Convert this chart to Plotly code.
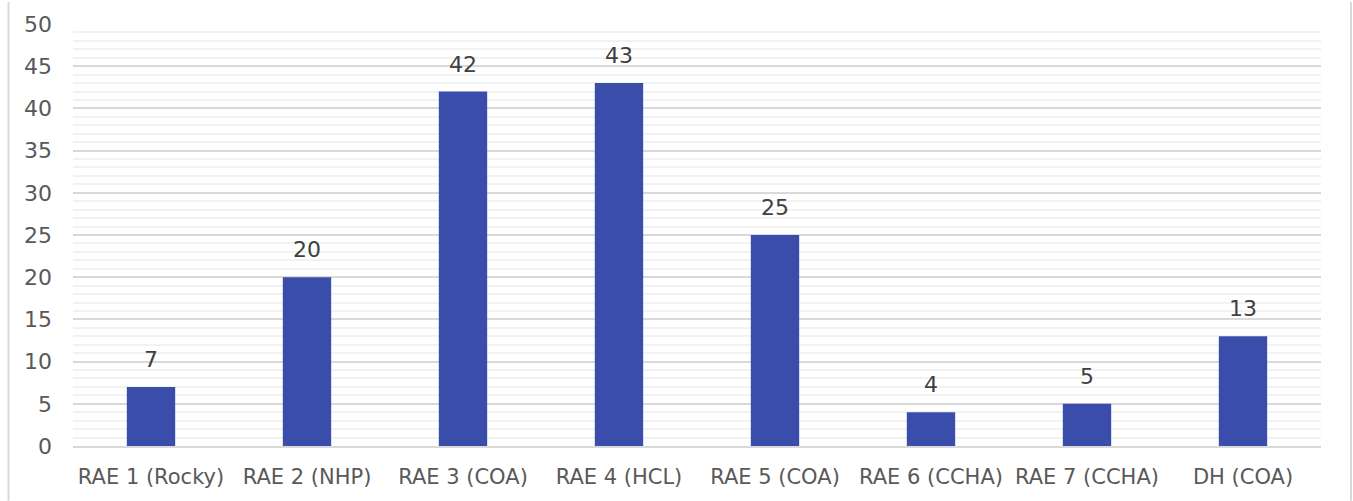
import plotly.graph_objects as go

categories = ["RAE 1 (Rocky)", "RAE 2 (NHP)", "RAE 3 (COA)", "RAE 4 (HCL)",
              "RAE 5 (COA)", "RAE 6 (CCHA)", "RAE 7 (CCHA)", "DH (COA)"]
values = [7, 20, 42, 43, 25, 4, 5, 13]
y_ticks = [0, 5, 10, 15, 20, 25, 30, 35, 40, 45, 50]

W, H = 1353, 501
ML, MR, MT, MB = 73, 32, 22, 55
FONT = "DejaVu Sans"

fig = go.Figure()
fig.add_trace(go.Bar(
    x=categories, y=values,
    marker=dict(color="#3A4DAB", line=dict(width=0)),
    hoverinfo="x+y",
))

# value labels above each bar
for c, v in zip(categories, values):
    fig.add_annotation(x=c, y=v, text=str(v), showarrow=False,
                       yanchor="bottom", yshift=13,
                       font=dict(family=FONT, size=22, color="#404040"))

# chart frame lines at left and right edges
pw = W - ML - MR
ph = H - MT - MB
for px in (8.5, 1351):
    xp = (px - ML) / pw
    fig.add_shape(type="line", xref="paper", yref="paper",
                  x0=xp, x1=xp, y0=-MB / ph, y1=1 + MT / ph,
                  line=dict(color="#D9D9D9", width=2), layer="below")

fig.update_layout(
    width=W, height=H,
    margin=dict(l=ML, r=MR, t=MT, b=MB, pad=0),
    paper_bgcolor="white", plot_bgcolor="white",
    bargap=0.69, showlegend=False,
    font=dict(family=FONT, size=21, color="#595959"),
)
fig.update_xaxes(
    showgrid=False, showline=True, linecolor="#D9D9D9", linewidth=2,
    ticks="", ticklabelstandoff=11,
    tickfont=dict(family=FONT, size=21, color="#595959"),
)
fig.update_yaxes(
    range=[0, 50], tickvals=y_ticks, showline=False, zeroline=False,
    gridcolor="#D9D9D9", gridwidth=1.5,
    minor=dict(dtick=1, showgrid=True, gridcolor="#F2F2F2", gridwidth=1.5),
    ticks="", ticklabelstandoff=20,
    tickfont=dict(family=FONT, size=22, color="#595959"),
)

fig.write_html("out.html")
